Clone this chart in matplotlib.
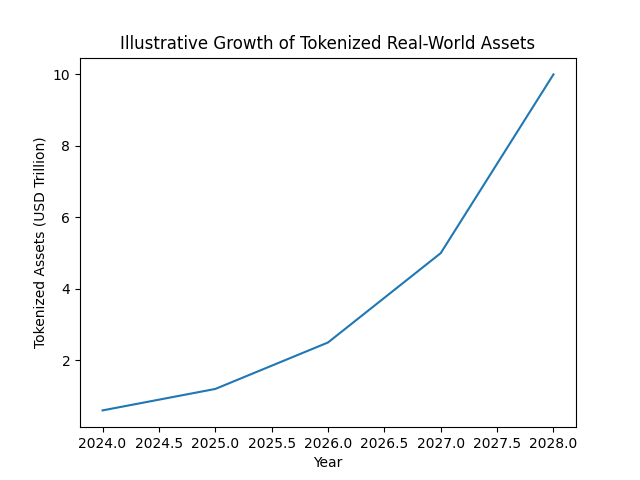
import matplotlib
matplotlib.use("Agg")
import matplotlib.pyplot as plt

# Illustrative tokenized asset values (USD trillion)
years = [2024, 2025, 2026, 2027, 2028]
assets = [0.6, 1.2, 2.5, 5.0, 10.0]

plt.figure(figsize=(6.4, 4.8), dpi=100)
plt.plot(years, assets)
plt.xlabel("Year")
plt.ylabel("Tokenized Assets (USD Trillion)")
plt.title("Illustrative Growth of Tokenized Real-World Assets")
plt.savefig("out.png")
